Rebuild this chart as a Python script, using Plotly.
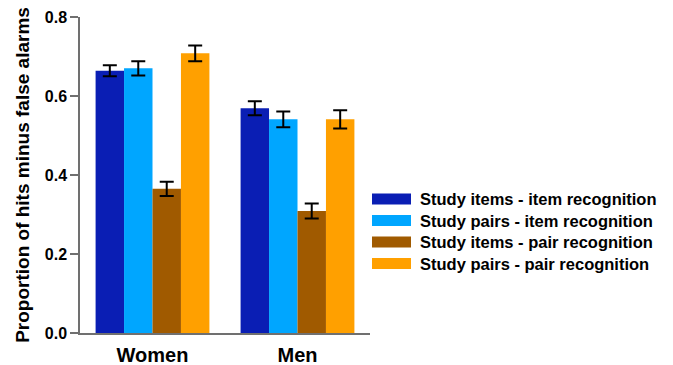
import plotly.graph_objects as go

# Recognition performance (hits minus false alarms) by sex and condition
groups = ["Women", "Men"]
series_names = [
    "Study items - item recognition",
    "Study pairs - item recognition",
    "Study items - pair recognition",
    "Study pairs - pair recognition",
]
series_colors = ["#0a1eb4", "#00a6ff", "#a05a00", "#ffa000"]
values = [
    [0.664, 0.569],
    [0.670, 0.541],
    [0.365, 0.309],
    [0.708, 0.541],
]
errors = [
    [0.014, 0.018],
    [0.018, 0.020],
    [0.018, 0.019],
    [0.020, 0.023],
]
y_ticks = [0.0, 0.2, 0.4, 0.6, 0.8]

FONT = "Liberation Sans, Arial, Helvetica, sans-serif"

fig = go.Figure()
for name, color, vals, errs in zip(series_names, series_colors, values, errors):
    fig.add_trace(go.Bar(
        x=groups, y=vals, name=name,
        marker=dict(color=color, line=dict(width=0)),
        error_y=dict(type="data", array=errs, color="black", thickness=2, width=7),
        showlegend=False,
    ))

# Custom legend: wide colour swatches with bold labels
W, H = 673, 365
L, R, T, B = 80, 303, 17, 32
pw, ph = W - L - R, H - T - B


def px_x(px):
    return (px - L) / pw


def px_y(py):
    return (H - B - py) / ph


shapes = []
annotations = []
row_y = [199, 220.5, 242, 263.5]
for name, color, yc in zip(series_names, series_colors, row_y):
    shapes.append(dict(
        type="rect", xref="paper", yref="paper",
        x0=px_x(372), x1=px_x(411), y0=px_y(yc + 5.5), y1=px_y(yc - 5.5),
        fillcolor=color, line=dict(width=0),
    ))
    annotations.append(dict(
        xref="paper", yref="paper", x=px_x(418), y=px_y(yc),
        xanchor="left", yanchor="middle", text=name, showarrow=False,
        font=dict(family=FONT, size=16.5, color="black", weight="bold"),
    ))

fig.update_layout(
    width=W, height=H,
    margin=dict(l=L, r=R, t=T, b=B, pad=0, autoexpand=False),
    paper_bgcolor="white", plot_bgcolor="white",
    barmode="group", bargap=0.215, bargroupgap=0,
    font=dict(family=FONT, color="black"),
    shapes=shapes, annotations=annotations,
    showlegend=False,
)
fig.update_xaxes(
    range=[-0.5, 1.5], showline=True, linecolor="#707070", linewidth=1.5,
    ticks="", showgrid=False, zeroline=False, automargin=False,
    ticklabelstandoff=3,
    tickfont=dict(family=FONT, size=20, color="black", weight="bold"),
)
fig.update_yaxes(
    range=[0, 0.8], tickvals=y_ticks, tickformat=".1f",
    showline=True, linecolor="#707070", linewidth=1.5,
    ticks="outside", ticklen=8, tickwidth=1.5, tickcolor="#707070",
    showgrid=False, zeroline=False, automargin=False,
    tickfont=dict(family=FONT, size=16, color="black", weight="bold"),
    title=dict(text="Proportion of hits minus false alarms", standoff=10,
               font=dict(family=FONT, size=19, color="black", weight="bold")),
)

fig.write_html("out.html")
